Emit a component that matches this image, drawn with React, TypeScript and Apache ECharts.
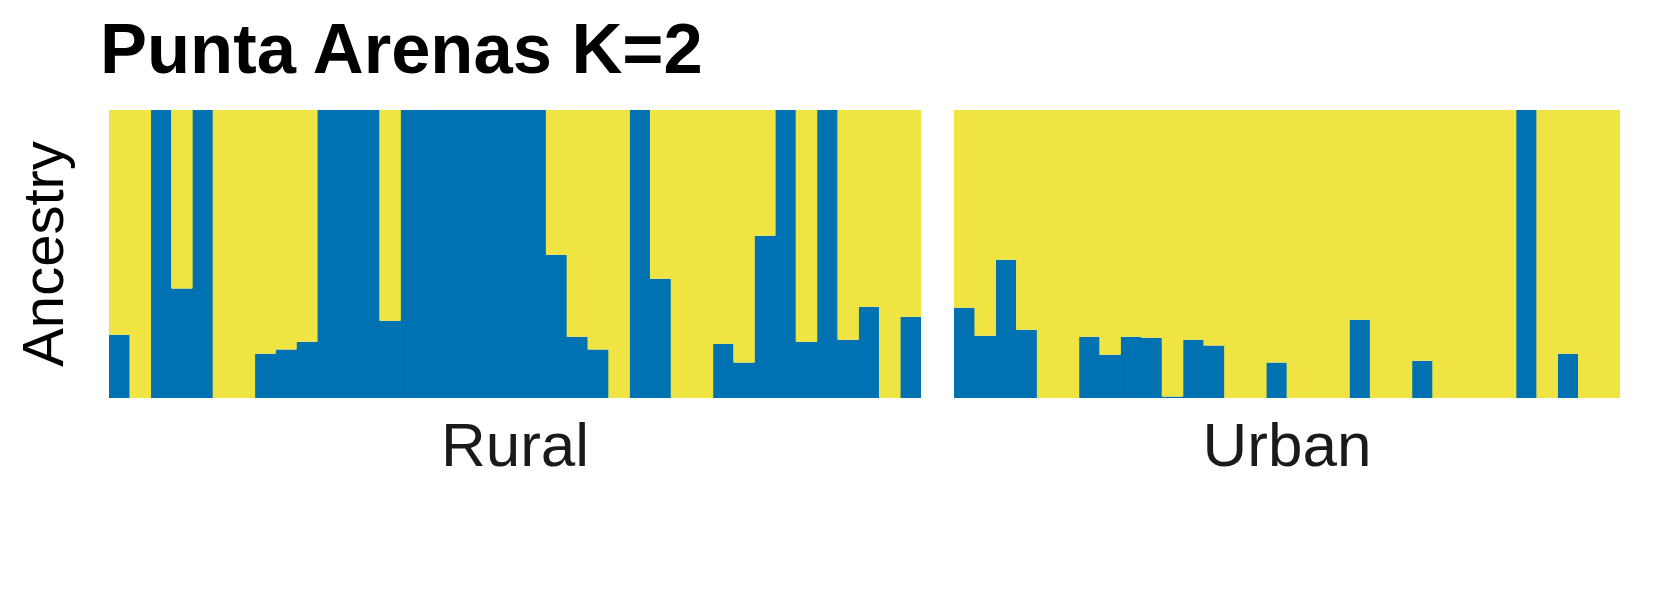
import React, { useEffect, useRef } from "react";
import * as echarts from "echarts";

// Proportion of ancestry component 1 (blue) per individual; component 2 (yellow) is its complement (K=2)
const ruralBlue = [
  0.22, 0, 1, 0.38, 1, 0, 0, 0.154, 0.168, 0.195, 1, 1, 1, 0.268, 1, 1, 1, 1, 1, 1,
  1, 0.497, 0.213, 0.168, 0, 1, 0.414, 0, 0, 0.188, 0.123, 0.563, 1, 0.195, 1, 0.202,
  0.317, 0, 0.282,
];
const urbanBlue = [
  0.313, 0.216, 0.48, 0.237, 0, 0, 0.213, 0.15, 0.213, 0.209, 0.005, 0.202, 0.182, 0,
  0, 0.123, 0, 0, 0, 0.272, 0, 0, 0.129, 0, 0, 0, 0, 1, 0, 0.154, 0, 0,
];
const groups = ["Rural", "Urban"];
const titleText = "Punta Arenas K=2";
const yTitle = "Ancestry";

const BLUE = "#0072B2";
const YELLOW = "#F0E442";
const FONT = "Liberation Sans, Arial, sans-serif";

export default function App() {
  const ref = useRef<HTMLDivElement>(null);
  useEffect(() => {
    document.body.style.margin = "0";
    if (!ref.current) return;
    const chart = echarts.init(ref.current, undefined, { renderer: "svg" });
    const data = [ruralBlue, urbanBlue];
    const grids = [
      { left: 109, top: 110, width: 812, height: 288 },
      { left: 954, top: 110, width: 666, height: 288 },
    ];
    const xAxis = data.map((arr, i) => ({
      type: "category" as const,
      gridIndex: i,
      data: arr.map((_, k) => `${groups[i]} ${k + 1}`),
      axisLine: { show: false },
      axisTick: { show: false },
      axisLabel: { show: false },
      splitLine: { show: false },
      name: groups[i],
      nameLocation: "middle" as const,
      nameGap: 15,
      nameTextStyle: { fontFamily: FONT, fontSize: 62, color: "#1a1a1a" },
    }));
    const yAxis = data.map((_, i) => ({
      type: "value" as const,
      gridIndex: i,
      min: 0,
      max: 1,
      axisLine: { show: false },
      axisTick: { show: false },
      axisLabel: { show: false },
      splitLine: { show: false },
      name: i === 0 ? yTitle : "",
      nameLocation: "middle" as const,
      nameGap: 38,
      nameTextStyle: { fontFamily: FONT, fontSize: 58, color: "#000" },
    }));
    const series: any[] = [];
    data.forEach((arr, i) => {
      series.push({
        type: "bar",
        xAxisIndex: i,
        yAxisIndex: i,
        stack: "s" + i,
        barWidth: 21.6,
        data: arr,
        itemStyle: { color: BLUE },
        silent: true,
      });
      series.push({
        type: "bar",
        xAxisIndex: i,
        yAxisIndex: i,
        stack: "s" + i,
        barWidth: 21.6,
        data: arr.map((v) => +(1 - v).toFixed(4)),
        itemStyle: { color: YELLOW },
        silent: true,
      });
    });
    chart.setOption({
      animation: false,
      backgroundColor: "#fff",
      title: {
        text: titleText,
        left: 100,
        top: 13,
        padding: 0,
        textStyle: { fontFamily: FONT, fontSize: 70.5, fontWeight: "bold", color: "#000" },
      },
      grid: grids,
      xAxis,
      yAxis,
      series,
    });
    return () => chart.dispose();
  }, []);
  return <div ref={ref} style={{ width: 1653, height: 590 }} />;
}
